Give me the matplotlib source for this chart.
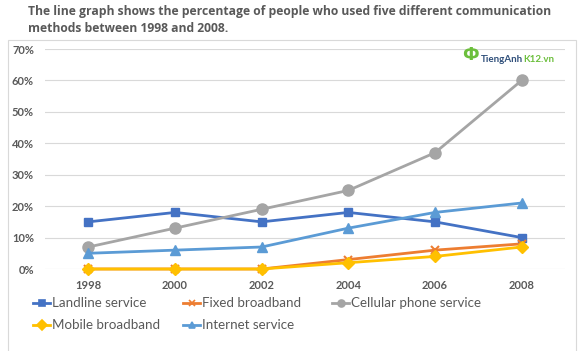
import matplotlib
matplotlib.use("Agg")
import matplotlib.pyplot as plt
from matplotlib.lines import Line2D
from matplotlib.patches import Rectangle

# data
years = ["1998", "2000", "2002", "2004", "2006", "2008"]
landline = [15, 18, 15, 18, 15, 10]
fixed_bb = [0, 0, 0, 3, 6, 8]
cellular = [7, 13, 19, 25, 37, 60]
mobile_bb = [0, 0, 0, 2, 4, 7]
internet = [5, 6, 7, 13, 18, 21]
y_ticks = [0, 10, 20, 30, 40, 50, 60, 70]

series = [
    ("Landline service", landline, "#4472C4", "s", 6),
    ("Fixed broadband", fixed_bb, "#ED7D31", "x", 6),
    ("Cellular phone service", cellular, "#A5A5A5", "o", 8),
    ("Mobile broadband", mobile_bb, "#FFC000", "D", 6),
    ("Internet service", internet, "#5B9BD5", "^", 7),
]

plt.rcParams["font.family"] = ["Lato", "DejaVu Sans"]

W, H = 584, 351
fig = plt.figure(figsize=(W / 100, H / 100), dpi=100)
fig.patch.set_facecolor("white")


def fx(px):
    return px / W


def fy(py):
    return 1 - py / H


# chart frame
fig.patches.append(Rectangle((fx(8), -0.01), fx(568), fy(40) + 0.01,
                             transform=fig.transFigure, fill=False,
                             edgecolor="#d9d9d9", lw=0.8))

fig.text(fx(28), fy(5),
         "The line graph shows the percentage of people who used five different communication\nmethods between 1998 and 2008.",
         ha="left", va="top", fontsize=8.75, fontweight="bold", color="#595959",
         family=["Open Sans", "DejaVu Sans"], linespacing=1.45)

ax = fig.add_axes([fx(45), fy(269), fx(520), 220 / H])
x = list(range(len(years)))
for name, vals, col, mk, ms in series:
    if mk == "x":
        ax.plot(x, vals, color=col, lw=2, marker="x", ms=ms, mew=1.5, label=name)
    else:
        ax.plot(x, vals, color=col, lw=2, marker=mk, ms=ms, mec=col, label=name)

ax.set_xlim(-0.5, 5.5)
ax.set_ylim(0, 70)
ax.set_yticks(y_ticks)
ax.set_yticklabels([f"{v}%" for v in y_ticks])
ax.set_xticks(x)
ax.set_xticklabels(years)
ax.grid(axis="y", color="#d9d9d9", lw=0.8)
ax.set_axisbelow(True)
for s in ax.spines.values():
    s.set_visible(False)
ax.tick_params(length=0, labelsize=8, labelcolor="#595959", pad=8)
for lab in ax.get_xticklabels() + ax.get_yticklabels():
    lab.set_fontweight("bold")
for ln in ax.lines:
    ln.set_clip_on(False)

# watermark
fig.text(fx(470), fy(55), "Ф", ha="center", va="center",
         fontsize=12, fontweight="bold", color="#6cbf3c",
         family=["DejaVu Sans"])
t1 = fig.text(fx(481), fy(59), "TiengAnh", ha="left", va="center",
              fontsize=7, fontweight="bold", color="#2f4f7a")
fig.canvas.draw()
ext = t1.get_window_extent()
fig.text(ext.x1 / W, fy(59), "K12.vn", ha="left", va="center",
         fontsize=7, fontweight="bold", color="#6cbf3c")

# legend, laid out by hand (3 columns, 2 rows as in the reference)
col_x = [33, 183, 332]
row_y = [303, 325]
slots = [(0, 0), (0, 1), (0, 2), (1, 0), (1, 1)]
for (name, _, col, mk, _), (r, c) in zip(series, slots):
    x0, y0 = col_x[c], row_y[r]
    fig.add_artist(Line2D([fx(x0), fx(x0 + 17)], [fy(y0), fy(y0)],
                          transform=fig.transFigure, color=col, lw=2))
    fig.add_artist(Line2D([fx(x0 + 8.5)], [fy(y0)], transform=fig.transFigure,
                          color=col, marker=mk, ms=5, mew=1.2, mec=col, lw=0))
    fig.text(fx(x0 + 19), fy(y0), name, ha="left", va="center",
             fontsize=9.6, color="#595959")

fig.savefig("out.png", dpi=100)
